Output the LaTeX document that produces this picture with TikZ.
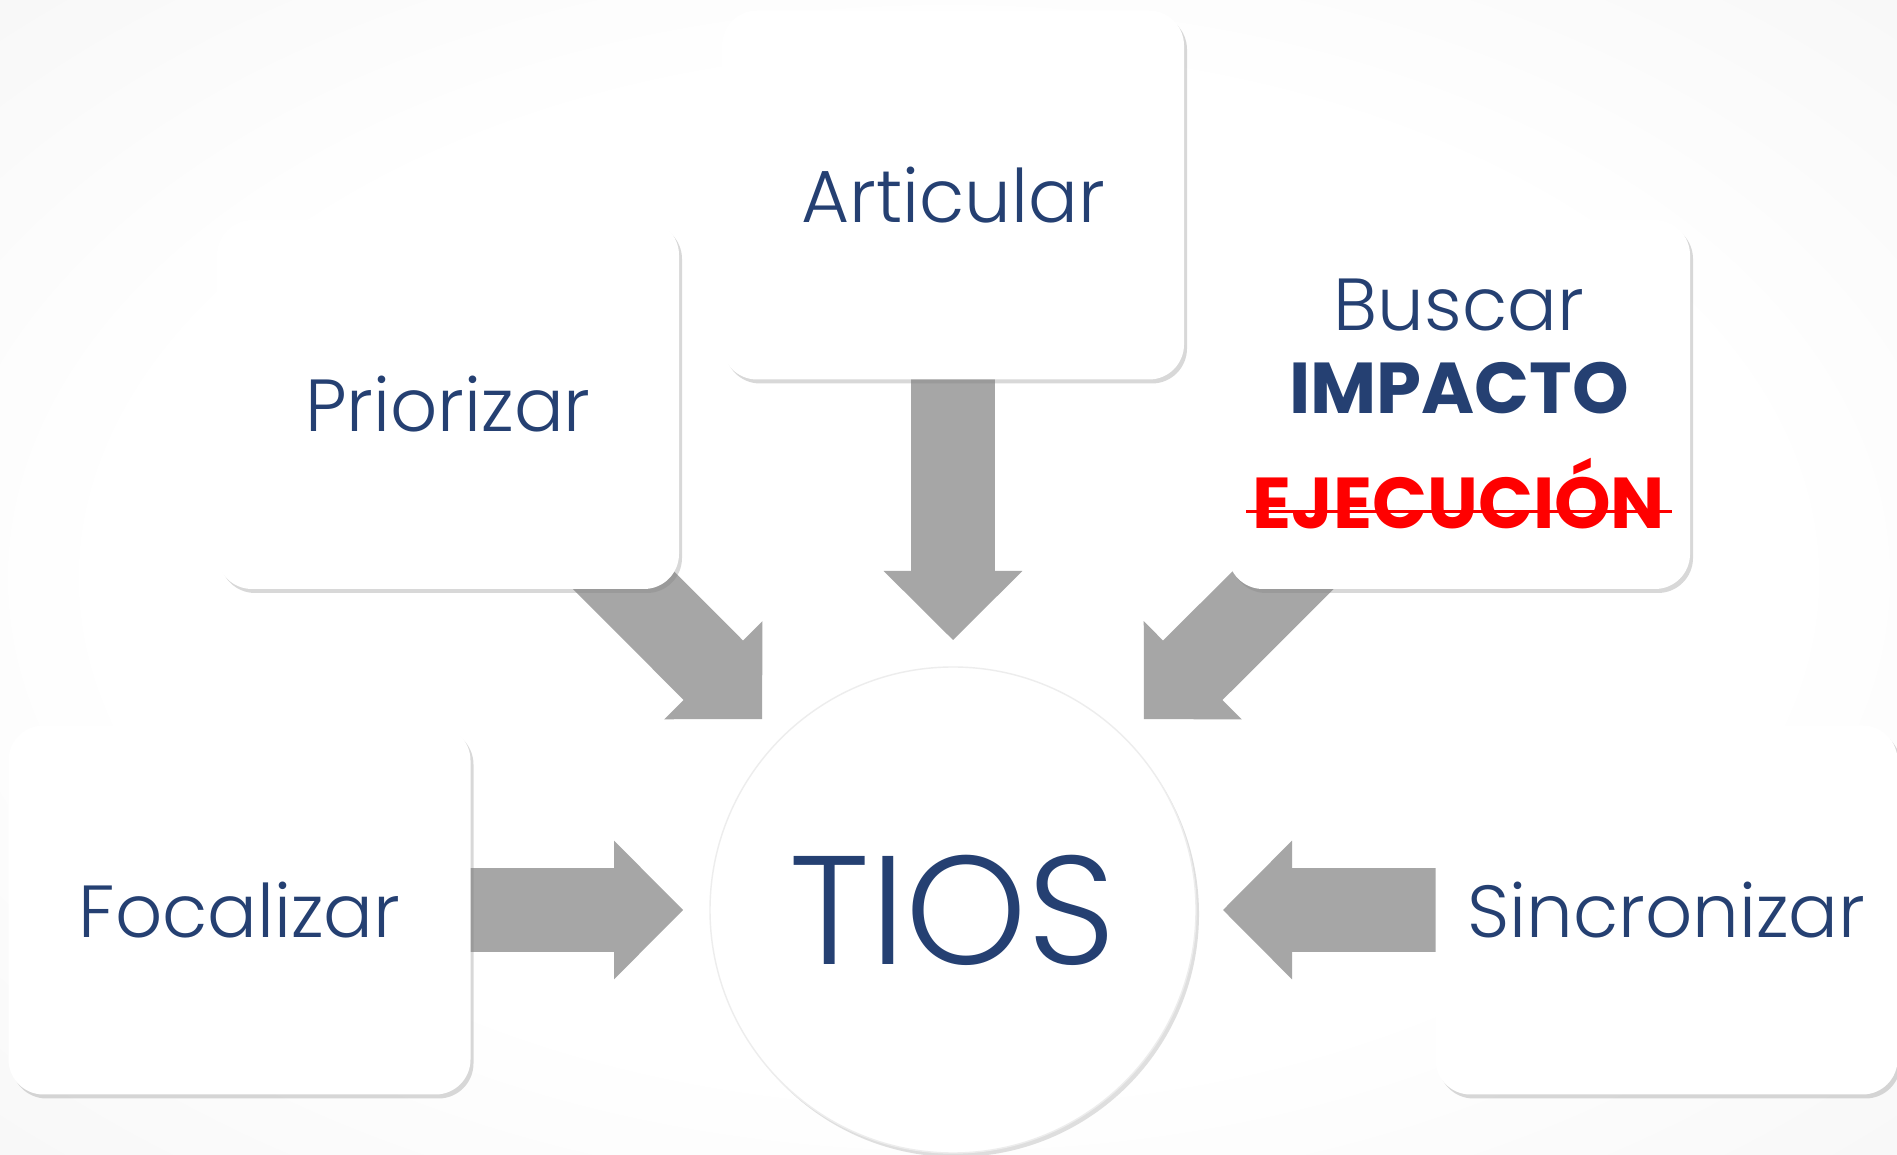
\documentclass[tikz,border=0pt]{standalone}
\usepackage{fontspec}
\setmainfont{Poppins}[UprightFont=* Light, BoldFont=* Bold]
\usetikzlibrary{arrows.meta,shadows,backgrounds,calc}

\definecolor{textblue}{RGB}{37,64,114}
\definecolor{arrowgray}{RGB}{166,166,166}
\definecolor{bgmid}{RGB}{240,240,240}
\definecolor{bgedge}{RGB}{214,214,214}
\pgfdeclareradialshading{bgglow}{\pgfpoint{0bp}{0bp}}{color(0bp)=(white); color(22bp)=(white); color(50bp)=(bgmid); color(72bp)=(bgedge)}

\tikzset{
    box/.style={fill=white, rounded corners=0.35cm, minimum width=4.62cm, minimum height=3.69cm,
        text=textblue, font=\fontsize{21}{25}\selectfont,
        drop shadow={shadow xshift=0.03cm, shadow yshift=-0.04cm, opacity=0.3}},
    boxtext/.style={inner sep=0pt, anchor=base, text=textblue, font=\fontsize{21}{25}\selectfont},
    boldtext/.style={boxtext, font=\fontsize{20.5}{25}\selectfont\bfseries},
    bigarrow/.style={draw=arrowgray, line width=0.84cm,
        -{Triangle[width=1.38cm, length=0.69cm, line width=0.04cm]}}
}

\begin{document}
\begin{tikzpicture}
    \useasboundingbox (0,0) rectangle (18.97,11.55);

    \node[box] (foc) at (2.395,2.45) {Focalizar};
    \node[box] (prio) at (4.48,7.505) {Priorizar};
    \node[box] (arti) at (9.53,9.6) {Articular};
    \node[box] (busc) at (14.59,7.505) {};
    \node[box] (sinc) at (16.665,2.45) {Sincronizar};

    \node[boxtext] (buscar) at (14.59,8.24) {Buscar};
    \node[boldtext] (impacto) at (14.59,7.41) {IMPACTO};
    \node[boldtext, text=red] (ejec) at (14.59,6.26) {EJECUCIÓN};
    \draw[red, line width=0.03cm] ([xshift=-0.06cm,yshift=0.17cm]ejec.base west) -- ([xshift=0.06cm,yshift=0.17cm]ejec.base east);

    \node[circle, fill=white, draw=black!7, minimum size=4.86cm, text=textblue,
        font=\fontsize{44}{48}\selectfont,
        drop shadow={shadow xshift=0.03cm, shadow yshift=-0.04cm, opacity=0.25}] (tios) at (9.53,2.45) {TIOS};

    \coordinate (tipw) at ($(tios.center)+(180:2.7)$);
    \coordinate (tipnw) at ($(tios.center)+(135:2.7)$);
    \coordinate (tipn) at ($(tios.center)+(90:2.7)$);
    \coordinate (tipne) at ($(tios.center)+(45:2.7)$);
    \coordinate (tipe) at ($(tios.center)+(0:2.7)$);

    \begin{scope}[on background layer]
        \shade[shading=bgglow] (0,0) rectangle (18.97,11.55);
        \draw[bigarrow] (foc.center) -- (tipw);
        \draw[bigarrow] (prio.center) -- (tipnw);
        \draw[bigarrow] (arti.center) -- (tipn);
        \draw[bigarrow] (busc.center) -- (tipne);
        \draw[bigarrow] (sinc.center) -- (tipe);
    \end{scope}
\end{tikzpicture}
\end{document}
